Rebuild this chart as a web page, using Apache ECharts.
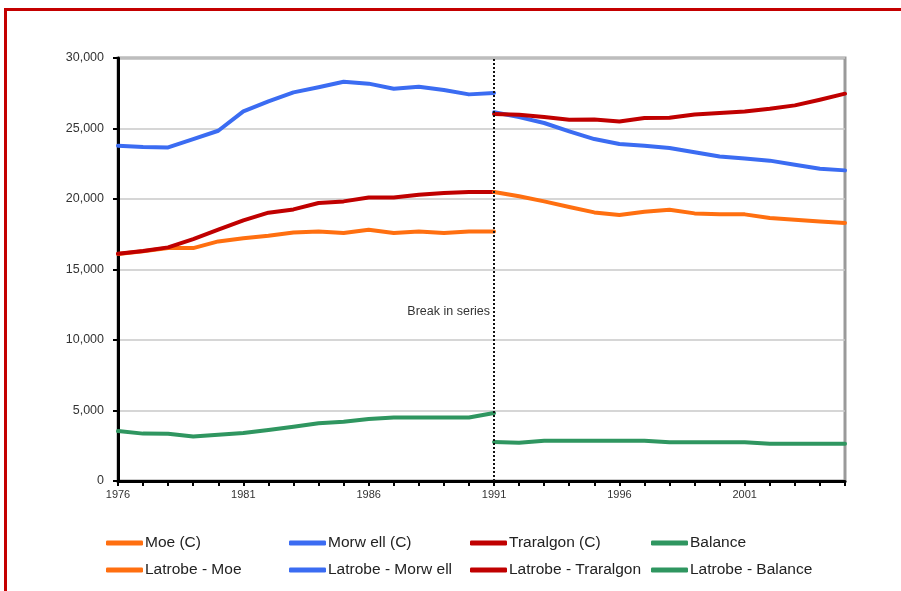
<!DOCTYPE html>
<html>
<head>
<meta charset="utf-8">
<script src="https://cdn.jsdelivr.net/npm/echarts@6/dist/echarts.min.js"></script>
<style>
  html, body { margin: 0; padding: 0; background: #ffffff; }
  #chart { width: 901px; height: 591px; }
</style>
</head>
<body>
<div id="chart"></div>
<script>
// Population by urban centre, Latrobe region (census-based counts)
const yearsC = [1976, 1977, 1978, 1979, 1980, 1981, 1982, 1983, 1984, 1985, 1986, 1987, 1988, 1989, 1990, 1991];
const yearsLatrobe = [1991, 1992, 1993, 1994, 1995, 1996, 1997, 1998, 1999, 2000, 2001, 2002, 2003, 2004, 2005];

const moeC       = [16100, 16300, 16520, 16520, 16990, 17210, 17400, 17630, 17700, 17590, 17820, 17590, 17700, 17590, 17700, 17700];
const morwellC   = [23780, 23690, 23660, 24250, 24840, 26210, 26920, 27560, 27920, 28320, 28180, 27820, 27960, 27730, 27420, 27520];
const traralgonC = [16120, 16310, 16570, 17160, 17820, 18480, 19030, 19260, 19720, 19830, 20110, 20110, 20300, 20430, 20500, 20500];
const balanceC   = [3540, 3360, 3350, 3160, 3280, 3400, 3620, 3850, 4090, 4210, 4400, 4500, 4500, 4500, 4500, 4820];

const latrobeMoe       = [20500, 20190, 19830, 19430, 19050, 18860, 19100, 19240, 18980, 18910, 18910, 18650, 18530, 18410, 18300];
const latrobeMorwell   = [26150, 25810, 25390, 24800, 24250, 23900, 23780, 23620, 23310, 23020, 22880, 22720, 22430, 22150, 22030];
const latrobeTraralgon = [26030, 25980, 25810, 25620, 25640, 25500, 25740, 25760, 26000, 26100, 26210, 26400, 26640, 27040, 27470];
const latrobeBalance   = [2770, 2720, 2860, 2860, 2860, 2860, 2860, 2740, 2740, 2740, 2740, 2650, 2650, 2650, 2650];

const yTicks = [0, 5000, 10000, 15000, 20000, 25000, 30000];
const xLabelYears = [1976, 1981, 1986, 1991, 1996, 2001];
const breakYear = 1991;
const breakLabel = 'Break in series';

const ORANGE = '#FF6F10';
const BLUE = '#3B6CF2';
const RED = '#C00000';
const GREEN = '#2F9660';

const FONT = '"Liberation Sans", Arial, sans-serif';

function pairs(xs, ys) { return xs.map((x, i) => [x, ys[i]]); }

function lineSeries(name, xs, ys, color) {
  return {
    name: name,
    type: 'line',
    data: pairs(xs, ys),
    symbol: 'none',
    smooth: false,
    color: color,
    lineStyle: { color: color, width: 4, cap: 'round', join: 'round' },
    emphasis: { disabled: true }
  };
}

const series = [
  lineSeries('Moe (C)', yearsC, moeC, ORANGE),
  lineSeries('Morw ell (C)', yearsC, morwellC, BLUE),
  lineSeries('Traralgon (C)', yearsC, traralgonC, RED),
  lineSeries('Balance', yearsC, balanceC, GREEN),
  lineSeries('Latrobe - Moe', yearsLatrobe, latrobeMoe, ORANGE),
  lineSeries('Latrobe - Morw ell', yearsLatrobe, latrobeMorwell, BLUE),
  lineSeries('Latrobe - Traralgon', yearsLatrobe, latrobeTraralgon, RED),
  lineSeries('Latrobe - Balance', yearsLatrobe, latrobeBalance, GREEN)
];

// dotted break marker with its caption
series[3].markLine = {
  silent: true,
  symbol: 'none',
  label: { show: false },
  lineStyle: { color: '#111', type: [2, 2], width: 2 },
  data: [{ xAxis: breakYear }],
  z: 10
};
series[3].markPoint = {
  silent: true,
  symbol: 'circle',
  symbolSize: 0,
  data: [{ coord: [breakYear, 12000] }],
  label: {
    show: true,
    position: 'left',
    distance: 4,
    formatter: breakLabel,
    color: '#333',
    fontSize: 12.5,
    fontFamily: FONT
  }
};

const legendColumns = [
  { left: 106, data: ['Moe (C)', 'Latrobe - Moe'] },
  { left: 289, data: ['Morw ell (C)', 'Latrobe - Morw ell'] },
  { left: 470, data: ['Traralgon (C)', 'Latrobe - Traralgon'] },
  { left: 651, data: ['Balance', 'Latrobe - Balance'] }
];

const legends = legendColumns.map(col => ({
  orient: 'vertical',
  left: col.left,
  top: 534,
  data: col.data,
  icon: 'roundRect',
  itemWidth: 37,
  itemHeight: 5,
  itemGap: 9,
  selectedMode: false,
  padding: 0,
  textStyle: { color: '#222', fontSize: 15.5, fontFamily: FONT, lineHeight: 18, padding: [0, 0, 0, -3] }
}));

const chart = echarts.init(document.getElementById('chart'), null, { renderer: 'canvas' });

chart.setOption({
  backgroundColor: '#ffffff',
  animation: false,
  graphic: [{
    type: 'rect',
    z: -10,
    shape: { x: 5.5, y: 9.5, width: 1000, height: 1000 },
    style: { fill: 'none', stroke: '#C40000', lineWidth: 3 }
  }],
  grid: {
    left: 118, top: 58, right: 56, bottom: 110,
    show: true,
    borderColor: '#9a9a9a',
    borderWidth: 3,
    backgroundColor: 'transparent'
  },
  legend: legends,
  xAxis: {
    type: 'value',
    min: 1976,
    max: 2005,
    interval: 1,
    axisLine: { show: true, lineStyle: { color: '#000', width: 3 } },
    axisTick: { show: true, length: 5, lineStyle: { color: '#000', width: 2 } },
    splitLine: { show: false },
    axisLabel: {
      color: '#333',
      fontSize: 11,
      fontFamily: FONT,
      margin: 8,
      formatter: v => (xLabelYears.indexOf(v) >= 0 ? String(v) : '')
    }
  },
  yAxis: {
    type: 'value',
    min: yTicks[0],
    max: yTicks[yTicks.length - 1],
    interval: yTicks[1] - yTicks[0],
    axisLine: { show: true, lineStyle: { color: '#000', width: 3 } },
    axisTick: { show: true, length: 5, lineStyle: { color: '#000', width: 2 } },
    splitLine: { show: true, lineStyle: { color: '#c8c8c8', width: 1.5 } },
    axisLabel: {
      color: '#333',
      fontSize: 12.5,
      fontFamily: FONT,
      margin: 14,
      formatter: v => v.toLocaleString('en-US')
    }
  },
  series: series
});
</script>
</body>
</html>
